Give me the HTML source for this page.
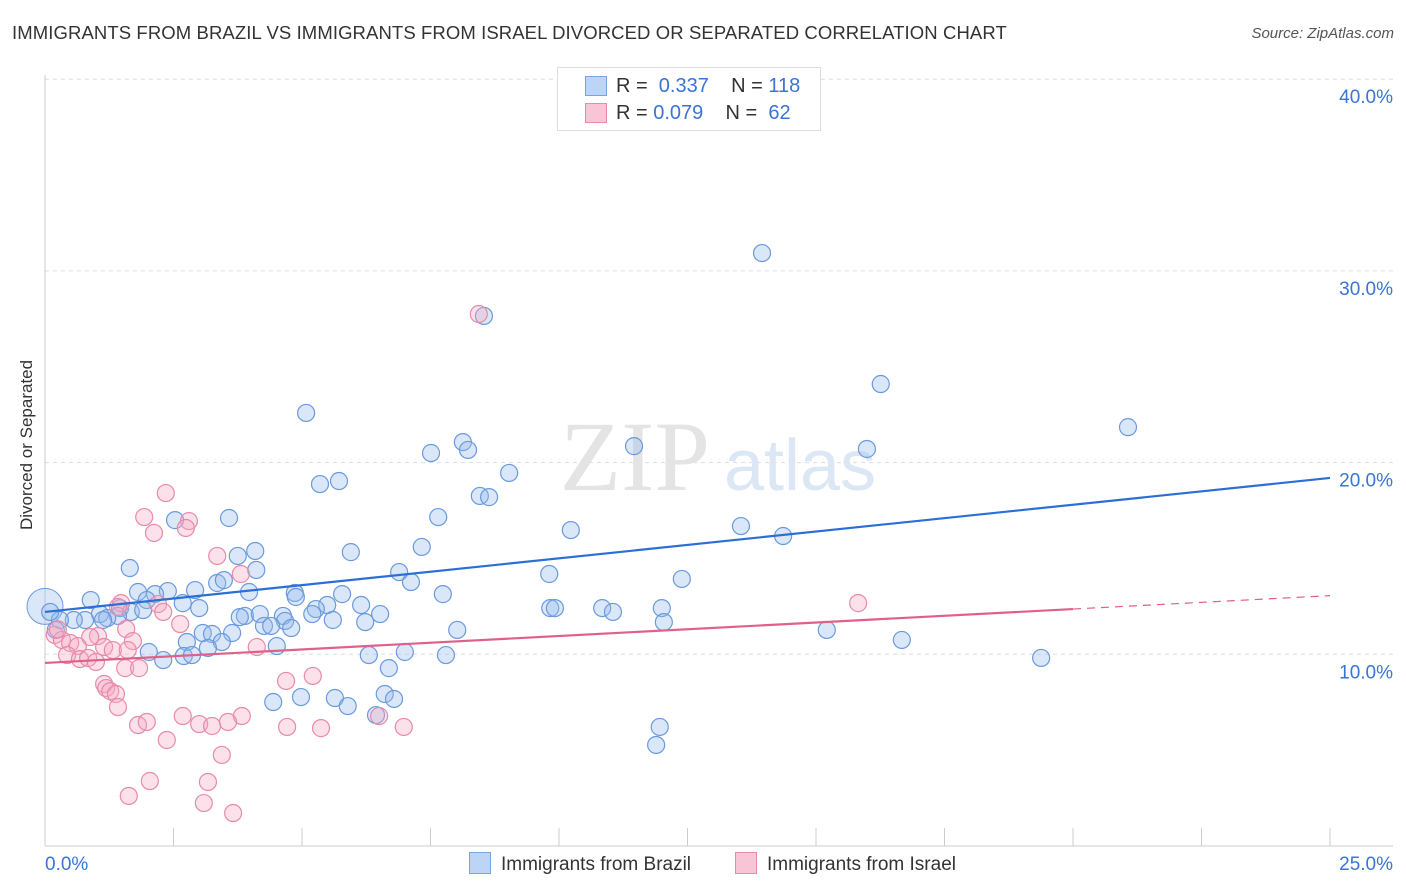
<!DOCTYPE html>
<html><head><meta charset="utf-8"><style>
body{margin:0;background:#fff;font-family:"Liberation Sans",sans-serif;}
#wrap{position:relative;width:1406px;height:892px;overflow:hidden;}
.t{position:absolute;white-space:nowrap;}
</style></head><body>
<div id="wrap">
<div class="t" style="left:12px;top:22px;font-size:18.5px;letter-spacing:0.1px;color:#333;">IMMIGRANTS FROM BRAZIL VS IMMIGRANTS FROM ISRAEL DIVORCED OR SEPARATED CORRELATION CHART</div>
<div class="t" style="right:12px;top:25px;font-size:15px;color:#555;font-style:italic;">Source: ZipAtlas.com</div>
<div class="t" style="left:-48px;top:445px;font-size:17px;color:#333;transform:rotate(-90deg);width:150px;text-align:center;">Divorced or Separated</div>
<svg id="svg" width="1406" height="892" style="position:absolute;left:0;top:0;"></svg>
</div>
<script>
const blueX=[13.95,8.54,16.26,5.08,21.07,8.13,11.46,15.99,8.23,7.51,5.72,9.03,5.35,8.46,8.64,7.65,3.58,2.53,13.54,10.23,14.36,7.33,4.09,5.95,3.75,1.65,4.11,6.89,9.81,7.12,3.35,3.48,12.39,2.92,2.39,1.81,2.14,3.97,4.86,7.74,5.78,0.89,1.98,4.88,2.68,1.46,3.00,5.49,6.15,5.27,9.83,9.92,10.84,12.00,11.05,1.67,1.91,1.07,1.42,3.89,4.18,4.63,3.79,6.52,5.20,1.21,1.13,0.78,0.56,0.29,0.10,5.60,6.23,4.67,4.26,4.40,4.79,12.04,8.02,15.21,0.21,3.07,3.25,3.64,2.76,3.44,3.17,16.67,4.51,2.02,2.70,2.30,2.86,6.30,7.00,7.80,19.38,6.69,5.64,6.61,6.79,4.98,4.44,5.89,6.44,11.96,11.89];
const blueY=[30.93,27.65,24.10,22.59,21.85,21.07,20.86,20.71,20.66,20.50,19.04,19.46,18.88,18.26,18.20,17.16,17.11,17.00,16.69,16.48,16.17,15.60,15.39,15.33,15.13,14.50,14.40,14.29,14.19,13.77,13.72,13.87,13.93,13.35,13.30,13.25,13.14,13.25,13.20,13.14,13.14,12.83,12.83,12.99,12.67,12.41,12.41,12.57,12.57,12.36,12.41,12.41,12.41,12.41,12.21,12.21,12.31,12.10,12.00,12.00,12.10,12.00,11.94,12.10,12.10,11.89,11.79,11.79,11.79,11.79,12.21,11.79,11.68,11.74,11.48,11.48,11.37,11.68,11.27,11.27,11.27,11.11,11.06,11.11,10.64,10.64,10.33,10.75,10.43,10.12,9.91,9.70,9.96,9.96,10.12,9.96,9.81,9.28,7.72,7.93,7.67,7.77,7.51,7.30,6.83,6.21,5.27];
const pinkX=[8.44,2.35,1.93,2.80,2.74,2.12,3.35,3.81,15.82,1.48,1.42,2.20,2.30,2.63,1.58,1.03,1.71,0.19,0.33,0.49,0.64,0.88,1.15,1.32,1.61,0.43,0.68,0.84,0.99,4.12,1.56,1.83,5.21,4.69,1.15,1.19,1.27,1.38,1.42,2.68,3.83,1.81,1.98,3.00,3.25,3.56,4.71,5.37,6.50,6.98,2.37,3.44,2.04,3.17,1.63,3.09,3.66,0.25];
const pinkY=[27.75,18.41,17.16,16.95,16.59,16.33,15.13,14.19,12.67,12.67,12.47,12.62,12.21,11.58,11.32,10.95,10.69,11.01,10.75,10.59,10.43,10.90,10.38,10.22,10.22,9.96,9.75,9.81,9.60,10.38,9.28,9.28,8.87,8.61,8.45,8.24,8.08,7.93,7.25,6.78,6.78,6.31,6.47,6.36,6.26,6.47,6.21,6.15,6.78,6.21,5.53,4.75,3.39,3.34,2.61,2.24,1.72,11.3];
const blueTrend=[12.21,19.2];
const pinkTrend=[9.55,12.36,13.06];
const yTicks=[10,20,30,40];
const yTickLabels=["10.0%","20.0%","30.0%","40.0%"];
const xTicks=[0,2.5,5,7.5,10,12.5,15,17.5,20,22.5,25];

const X=v=>45+v*1285/25;
const Y=v=>846-v*19.17;
const svg=document.getElementById('svg');
const NS='http://www.w3.org/2000/svg';
function mk(tag,attrs){const e=document.createElementNS(NS,tag);for(const k in attrs)e.setAttribute(k,attrs[k]);svg.appendChild(e);return e;}

yTicks.forEach((t,i)=>{
  const g=mk('line',{x1:45,x2:1393,y1:Y(t),y2:Y(t),stroke:'#ddd','stroke-dasharray':'4,4'});
  
  
  const l=mk('text',{x:1393,y:Y(t)+24,'text-anchor':'end','font-size':19,fill:'#3a74d4','font-family':'Liberation Sans'});
  l.textContent=yTickLabels[i];
  
  
});
const ax=mk('line',{x1:45,x2:1393,y1:846,y2:846,stroke:'#ccc'});


const ay=mk('line',{x1:45,x2:45,y1:75,y2:846,stroke:'#ccc'});


xTicks.forEach(t=>{
  const k=mk('line',{x1:X(t),x2:X(t),y1:828,y2:846,stroke:'#ccc'});
  
  
});
[[0,'0.0%','start',45],[25,'25.0%','end',1393]].forEach(a=>{
  const l=mk('text',{x:a[3],y:870,'text-anchor':a[2],'font-size':19,fill:'#3a74d4','font-family':'Liberation Sans'});
  l.textContent=a[1];
  
  
});
const w1=mk('text',{x:635,y:490,'text-anchor':'middle','font-size':100,fill:'#e4e4e4','font-family':'Liberation Serif'});
w1.textContent='ZIP';


const w2=mk('text',{x:800,y:490,'text-anchor':'middle','font-size':72,fill:'#dce7f5','font-family':'Liberation Sans'});
w2.textContent='atlas';



const big1=mk('circle',{cx:X(0),cy:Y(12.5),r:18,fill:'rgba(150,185,235,0.35)',stroke:'#6a9ade','stroke-width':1});


blueX.forEach((x,i)=>{
  const c=mk('circle',{cx:X(x),cy:Y(blueY[i]),r:8.5,fill:'rgba(150,185,235,0.35)',stroke:'#6a9ade','stroke-width':1.2});
  
  
});
pinkX.forEach((x,i)=>{
  const c=mk('circle',{cx:X(x),cy:Y(pinkY[i]),r:8.5,fill:'rgba(245,170,195,0.35)',stroke:'#e88aaa','stroke-width':1.2});
  
  
});
const bt=mk('line',{x1:X(0),y1:Y(blueTrend[0]),x2:X(25),y2:Y(blueTrend[1]),stroke:'#2b6fd6','stroke-width':2.2});


const pt=mk('line',{x1:X(0),y1:Y(pinkTrend[0]),x2:X(20),y2:Y(pinkTrend[1]),stroke:'#e0608a','stroke-width':2.2});


const pd=mk('line',{x1:X(20),y1:Y(pinkTrend[1]),x2:X(25),y2:Y(pinkTrend[2]),stroke:'#e0608a','stroke-width':1.2,'stroke-dasharray':'8,6'});


</script>
<div class="t" style="left:557px;top:67px;width:262px;height:62px;border:1px solid #ddd;background:#fff;font-size:20px;">
  <div style="position:absolute;left:27px;top:8px;width:20px;height:18px;background:#bcd4f5;border:1px solid #7aa4e0;"></div>
  <div class="t" style="left:58px;top:7px;color:#333;">R = <span style="color:#3a74d4">&nbsp;0.337</span>&nbsp;&nbsp;&nbsp; N = <span style="color:#3a74d4">118</span></div>
  <div style="position:absolute;left:27px;top:35px;width:20px;height:18px;background:#f8c5d6;border:1px solid #e88aaa;"></div>
  <div class="t" style="left:58px;top:34px;color:#333;">R = <span style="color:#3a74d4">0.079</span>&nbsp;&nbsp;&nbsp; N = &nbsp;<span style="color:#3a74d4">62</span></div>
</div>
<div class="t" style="left:469px;top:852px;font-size:19px;color:#333;">
  <span style="display:inline-block;width:20px;height:20px;background:#bcd4f5;border:1px solid #7aa4e0;vertical-align:-4px;margin-right:10px;"></span>Immigrants from Brazil</div>
<div class="t" style="left:735px;top:852px;font-size:19px;color:#333;">
  <span style="display:inline-block;width:20px;height:20px;background:#f8c5d6;border:1px solid #e88aaa;vertical-align:-4px;margin-right:10px;"></span>Immigrants from Israel</div>
</body></html>
